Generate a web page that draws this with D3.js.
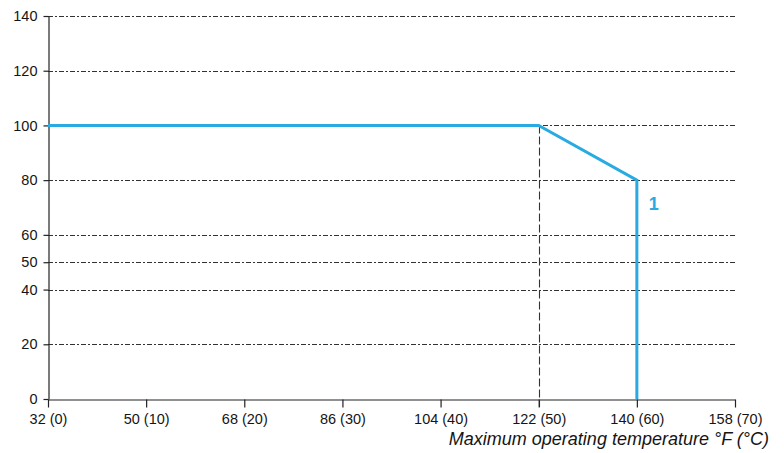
<!DOCTYPE html>
<html><head><meta charset="utf-8">
<script src="https://cdn.jsdelivr.net/npm/d3@7"></script>
<style>body{margin:0;background:#fff;} svg{display:block;}</style>
</head><body>
<svg id="c" width="784" height="453"></svg>
<script>
const xTicksC = [0,10,20,30,40,50,60,70];
const xTickLabels = ["32 (0)","50 (10)","68 (20)","86 (30)","104 (40)","122 (50)","140 (60)","158 (70)"];
const yTicks = [0,20,40,50,60,80,100,120,140];
const curveTempC = [0,50,60,60];
const curveLoad = [100,100,80,0];
const markerTempC = 50;
const curveLabel = "1";
const xTitle = "Maximum operating temperature °F (°C)";

const svg = d3.select("#c");
const x = d3.scaleLinear().domain([0,70]).range([48,735]);
const y = d3.scaleLinear().domain([0,140]).range([399,16]);
const font = "'Liberation Sans', Arial, Helvetica, sans-serif";
const gridCol = "#333";
const txtCol = "#151515";

// grid lines
svg.append("g").selectAll("line").data(yTicks.filter(d=>d>0)).join("line")
  .attr("x1",x(0)).attr("x2",x(70)).attr("y1",d=>Math.round(y(d))+0.5).attr("y2",d=>Math.round(y(d))+0.5)
  .attr("stroke",gridCol).attr("stroke-width",1.1).attr("stroke-dasharray","5,2,2,2");

// vertical dashed marker
svg.append("line").attr("x1",Math.round(x(markerTempC))+0.5).attr("x2",Math.round(x(markerTempC))+0.5)
  .attr("y1",y(100)).attr("y2",y(0)+8)
  .attr("stroke",gridCol).attr("stroke-width",1.1).attr("stroke-dasharray","8,3");

// x axis
const xAxis = d3.axisBottom(x).tickValues(xTicksC).tickSize(8).tickSizeOuter(0)
  .tickFormat((d,i)=>xTickLabels[i]);
const gx = svg.append("g").attr("transform",`translate(0,${Math.round(y(0))+0.5})`).call(xAxis);
gx.select(".domain").attr("stroke","#222").attr("stroke-width",1.2);
gx.selectAll(".tick line").attr("stroke","#222").attr("stroke-width",1.2);
gx.selectAll(".tick text").attr("font-family",font).attr("font-size",14.5).attr("fill",txtCol).attr("dy","0.95em");

// y axis
const yAxis = d3.axisLeft(y).tickValues(yTicks).tickSize(5).tickSizeOuter(0).tickFormat(d3.format("d"));
const gy = svg.append("g").attr("transform",`translate(${x(0)+0.5},0)`).call(yAxis);
gy.select(".domain").attr("stroke","#222").attr("stroke-width",1.2);
gy.selectAll(".tick line").attr("stroke","#222").attr("stroke-width",1.2);
gy.selectAll(".tick text").attr("font-family",font).attr("font-size",14.5).attr("fill",txtCol).attr("x",-11);

// curve
const pts = curveTempC.map((t,i)=>[t,curveLoad[i]]);
svg.append("path").datum(pts)
  .attr("d",d3.line().x(d=>x(d[0])).y(d=>y(d[1])))
  .attr("fill","none").attr("stroke","#29abe2").attr("stroke-width",3).attr("stroke-linejoin","miter");

svg.append("text").attr("x",x(60)+17).attr("y",y(70)+2).attr("text-anchor","middle")
  .attr("font-family",font).attr("font-weight","bold").attr("font-size",18).attr("fill","#29abe2").text(curveLabel);

svg.append("text").attr("x",769).attr("y",445).attr("text-anchor","end")
  .attr("font-family",font).attr("font-style","italic").attr("font-size",18).attr("fill",txtCol).text(xTitle);
</script>
</body></html>
